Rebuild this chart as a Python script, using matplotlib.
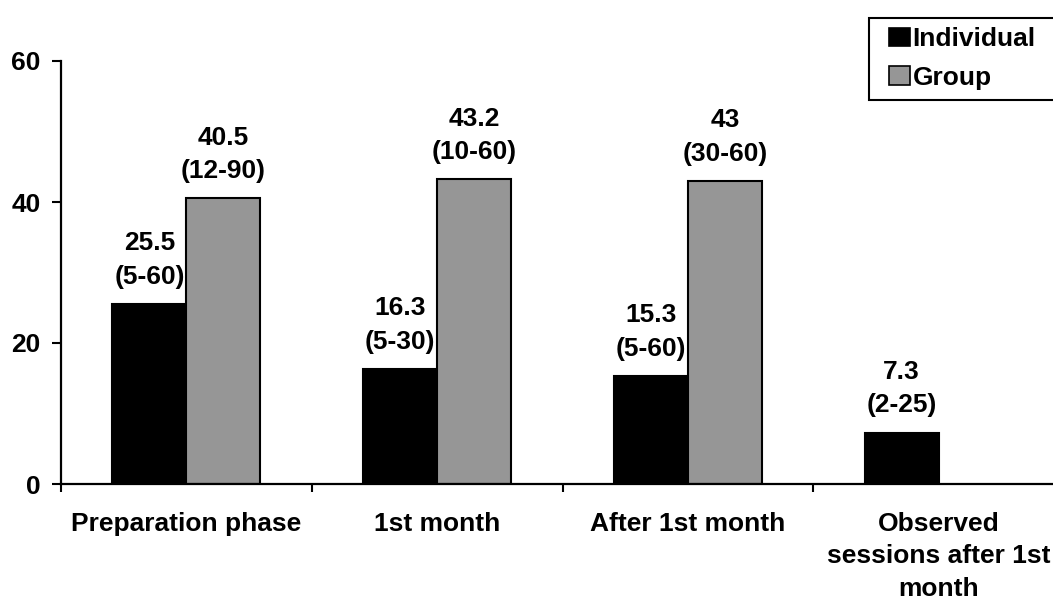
import matplotlib
matplotlib.use("Agg")
import matplotlib.pyplot as plt
import numpy as np
from matplotlib.patches import Patch, Rectangle

categories = ["Preparation phase", "1st month", "After 1st month",
              "Observed\nsessions after 1st\nmonth"]
individual = [25.5, 16.3, 15.3, 7.3]
individual_range = ["(5-60)", "(5-30)", "(5-60)", "(2-25)"]
group = [40.5, 43.2, 43.0, None]
group_range = ["(12-90)", "(10-60)", "(30-60)", None]
yticks = [0, 20, 40, 60]

plt.rcParams["font.family"] = ["Liberation Sans", "DejaVu Sans"]
plt.rcParams["font.weight"] = "bold"

FS = 19
W, H = 1053, 601
fig = plt.figure(figsize=(W / 100, H / 100), dpi=100)
ax = fig.add_axes([61 / W, (H - 484) / H, (1064 - 61) / W, (484 - 61) / H])

x = np.arange(len(categories))
bw = 0.295
black, grey = "#000000", "#969696"

for i in range(len(categories)):
    ax.bar(x[i] - bw / 2, individual[i], bw, color=black, edgecolor="black", linewidth=1.5)
    ax.annotate(f"{individual[i]:g}\n{individual_range[i]}", (x[i] - bw / 2, individual[i]),
                xytext=(0, 11), textcoords="offset points", ha="center", va="bottom",
                fontsize=FS, fontweight="bold", linespacing=1.5)
    if group[i] is not None:
        ax.bar(x[i] + bw / 2, group[i], bw, color=grey, edgecolor="black", linewidth=1.5)
        ax.annotate(f"{group[i]:g}\n{group_range[i]}", (x[i] + bw / 2, group[i]),
                    xytext=(0, 11), textcoords="offset points", ha="center", va="bottom",
                    fontsize=FS, fontweight="bold", linespacing=1.5)

ax.set_xlim(-0.5, len(categories) - 0.5)
ax.set_ylim(0, 60)
ax.set_yticks(yticks)
ax.set_yticklabels([str(t) for t in yticks], fontsize=FS, fontweight="bold")
ax.set_xticks(x)
ax.set_xticklabels(categories, fontsize=FS, fontweight="bold", linespacing=1.45)
ax.tick_params(axis="x", length=0, pad=20)
ax.set_xticks(np.arange(len(categories) + 1) - 0.5, minor=True)
ax.tick_params(axis="x", which="minor", length=6, width=1.5, direction="out")
ax.tick_params(axis="y", length=6.5, width=1.5, direction="out", pad=8)

for s in ["top", "right"]:
    ax.spines[s].set_visible(False)
for s in ["left", "bottom"]:
    ax.spines[s].set_linewidth(1.6)

# legend frame, running off the right edge of the figure
fig.patches.append(Rectangle((869 / W, 1 - 99.5 / H), 200 / W, 82 / H,
                             transform=fig.transFigure, facecolor="white",
                             edgecolor="black", linewidth=1.5, zorder=3))

handles = [Patch(facecolor=black, edgecolor="black", linewidth=1.2, label="Individual"),
           Patch(facecolor=grey, edgecolor="black", linewidth=1.2, label="Group")]
leg = fig.legend(handles=handles, loc="upper left",
                 bbox_to_anchor=(889 / W, 1 - 27 / H), prop={"size": FS, "weight": "bold"},
                 handlelength=0.78, handleheight=0.7, handletextpad=0.12,
                 labelspacing=0.55, borderpad=0, borderaxespad=0, frameon=False)
leg.set_zorder(4)

fig.savefig("out.png", dpi=100)
